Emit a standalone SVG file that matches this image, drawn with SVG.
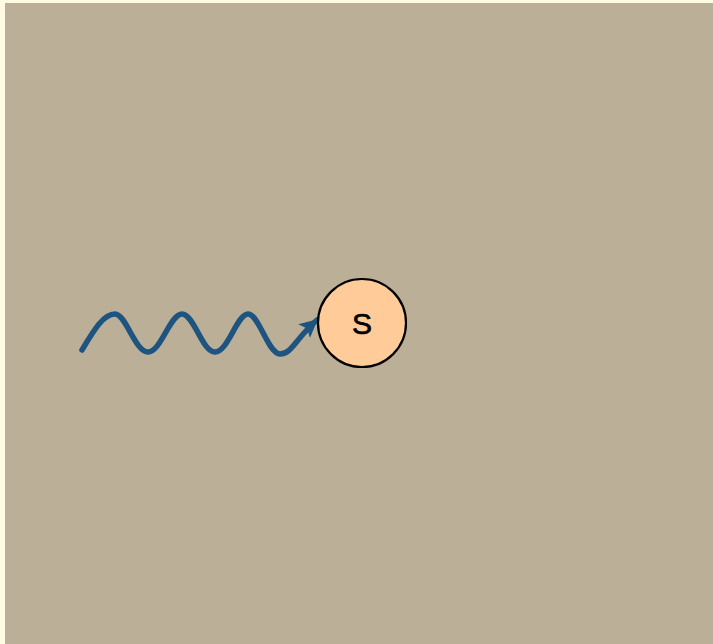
<svg xmlns="http://www.w3.org/2000/svg" width="713" height="644" viewBox="0 0 713 644">
<style>
.wave{fill:none;stroke:#1E5480;stroke-width:5.5;stroke-linecap:round}
.node{fill:#FFCC99;stroke:#000;stroke-width:2.2}
.lbl{font-family:"Liberation Sans",Arial,sans-serif;font-size:30px;fill:#000;stroke:#000;stroke-width:0.7;text-anchor:middle}
</style>
<defs>
<marker id="ah" markerUnits="userSpaceOnUse" markerWidth="22" markerHeight="22" refX="17" refY="9" orient="auto">
<path d="M0,0 L18,9 L0,18 L4,9 Z" fill="#1E5480"/>
</marker>
</defs>
<rect x="0" y="0" width="713" height="644" fill="#FFFBE2"/>
<rect x="5" y="3" width="708" height="641" fill="#BCAF97"/>
<g id="connectors">
<path class="wave" marker-end="url(#ah)" d="M82,350 C95,328 104,314 115,314 S135,352 148,352 S170,314 182,314 S202,352 215,352 S237,314 248,314 S268,354 280,354 S296,338 317,320"/>
</g>
<g id="node-s">
<circle class="node" cx="362" cy="323" r="44"/>
<text class="lbl" x="362" y="334">S</text>
</g>
</svg>
